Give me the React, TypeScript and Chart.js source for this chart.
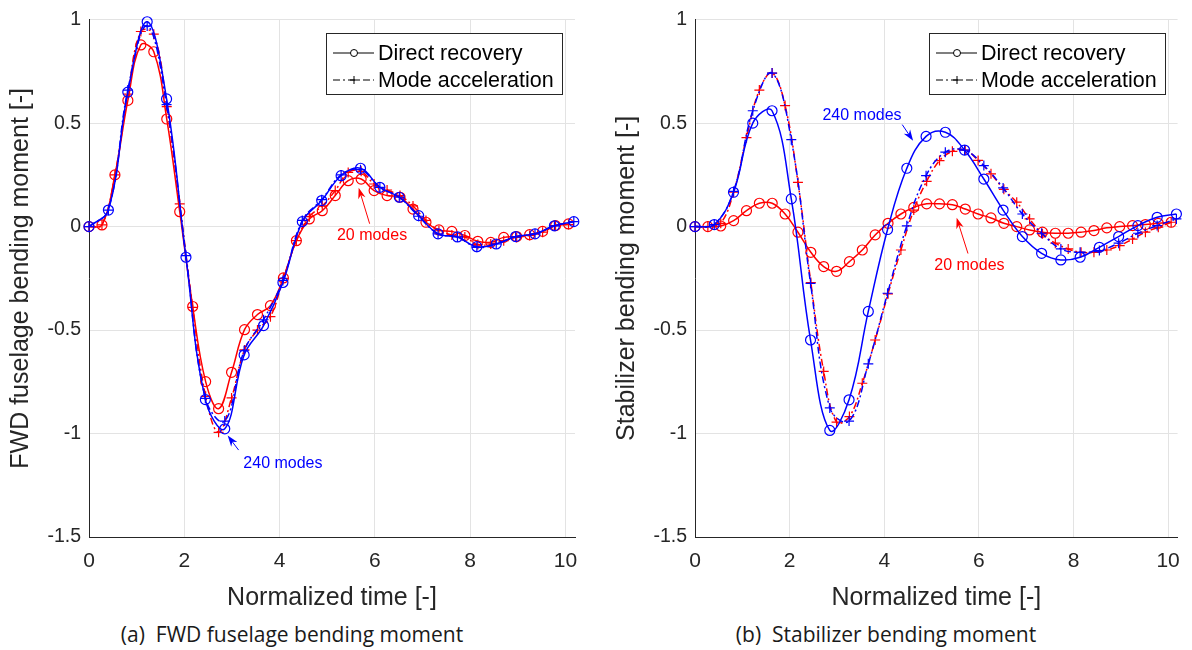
import React, { useEffect, useRef } from "react";
import { Chart, registerables } from "chart.js";

Chart.register(...registerables);
Chart.defaults.font.family = '"Liberation Sans", Arial, Helvetica, sans-serif';

// ---- sample times (marker positions) ----
const t240 = [0, 0.407, 0.814, 1.221, 1.628, 2.035, 2.442, 2.849, 3.256, 3.663, 4.07, 4.477, 4.884, 5.291, 5.698, 6.105, 6.512, 6.919, 7.326, 7.733, 8.14, 8.547, 8.954, 9.361, 9.768, 10.175];
const t20 = [0, 0.272, 0.544, 0.816, 1.088, 1.36, 1.632, 1.904, 2.176, 2.448, 2.72, 2.992, 3.264, 3.536, 3.808, 4.08, 4.352, 4.624, 4.896, 5.168, 5.44, 5.712, 5.984, 6.256, 6.528, 6.8, 7.072, 7.344, 7.616, 7.888, 8.16, 8.432, 8.704, 8.976, 9.248, 9.52, 9.792, 10.064];

// ---- (a) FWD fuselage bending moment ----
const fwdDirect240 = [0, 0.08, 0.65, 0.99, 0.617, -0.148, -0.836, -0.977, -0.62, -0.478, -0.27, 0.024, 0.126, 0.246, 0.282, 0.19, 0.142, 0.053, -0.035, -0.05, -0.097, -0.084, -0.048, -0.035, 0.004, 0.024];
const fwdModeAcc240 = [0, 0.08, 0.66, 0.97, 0.59, -0.14, -0.83, -0.94, -0.6, -0.45, -0.26, 0.03, 0.13, 0.25, 0.275, 0.19, 0.142, 0.05, -0.035, -0.05, -0.1, -0.084, -0.05, -0.035, 0.004, 0.024];
const fwdDirect20 = [0, 0.008, 0.25, 0.61, 0.878, 0.845, 0.52, 0.072, -0.386, -0.749, -0.88, -0.704, -0.498, -0.425, -0.382, -0.248, -0.068, 0.037, 0.077, 0.15, 0.222, 0.23, 0.174, 0.15, 0.142, 0.085, 0.021, -0.016, -0.023, -0.043, -0.071, -0.076, -0.052, -0.048, -0.039, -0.023, 0.005, 0.013];
const fwdModeAcc20 = [0, 0.008, 0.25, 0.64, 0.943, 0.93, 0.58, 0.11, -0.39, -0.82, -0.994, -0.828, -0.596, -0.5, -0.435, -0.25, -0.068, 0.048, 0.1, 0.174, 0.262, 0.267, 0.206, 0.177, 0.15, 0.1, 0.03, -0.02, -0.04, -0.05, -0.087, -0.084, -0.068, -0.052, -0.043, -0.027, 0.005, 0.01];

// ---- (b) Stabilizer bending moment ----
const stabDirect240 = [0, 0.01, 0.166, 0.5, 0.56, 0.134, -0.548, -0.985, -0.837, -0.41, -0.014, 0.282, 0.436, 0.456, 0.37, 0.23, 0.08, -0.048, -0.129, -0.161, -0.148, -0.1, -0.048, 0.005, 0.045, 0.061];
const stabModeAcc240 = [0, 0.01, 0.17, 0.56, 0.742, 0.42, -0.274, -0.876, -0.94, -0.663, -0.322, 0.004, 0.246, 0.36, 0.37, 0.295, 0.187, 0.061, -0.032, -0.108, -0.124, -0.116, -0.08, -0.032, 0.005, 0.037];
const stabDirect20 = [0, 0, 0.003, 0.029, 0.077, 0.113, 0.113, 0.061, -0.027, -0.124, -0.193, -0.216, -0.169, -0.113, -0.04, 0.016, 0.061, 0.093, 0.11, 0.11, 0.106, 0.085, 0.061, 0.042, 0.016, 0, -0.016, -0.027, -0.032, -0.032, -0.027, -0.019, -0.006, 0, 0.005, 0.01, 0.016, 0.021];
const stabModeAcc20 = [0, 0, 0.016, 0.166, 0.43, 0.66, 0.742, 0.585, 0.214, -0.27, -0.7, -0.945, -0.918, -0.757, -0.548, -0.325, -0.113, 0.08, 0.219, 0.319, 0.364, 0.37, 0.32, 0.255, 0.18, 0.118, 0.037, -0.035, -0.08, -0.108, -0.124, -0.124, -0.113, -0.092, -0.06, -0.027, -0.003, 0.021];

// ---- axes / labels ----
const xTickValues = [0, 2, 4, 6, 8, 10];
const xTickLabels = ["0", "2", "4", "6", "8", "10"];
const yTickValues = [-1.5, -1, -0.5, 0, 0.5, 1];
const yTickLabels = ["-1.5", "-1", "-0.5", "0", "0.5", "1"];
const legendLabels = ["Direct recovery", "Mode acceleration"];
const xTitle = "Normalized time [-]";

const BLUE = "#0000ff";
const RED = "#ff0000";
const AXIS = "#262626";
const GRID = "#e3e3e3";
const DASHDOT = [7, 3, 2, 3];
const FONT = '"Liberation Sans", Arial, Helvetica, sans-serif';

function pts(ts: number[], vs: number[]) {
  return ts.map((t, i) => ({ x: t, y: vs[i] }));
}

function series(ts: number[], vs: number[], color: string, style: string, dashed: boolean) {
  return {
    data: pts(ts, vs),
    borderColor: color,
    backgroundColor: "rgba(0,0,0,0)",
    borderWidth: 1.5,
    borderDash: dashed ? DASHDOT : [],
    tension: 0.4,
    fill: false,
    pointStyle: style,
    pointRadius: 5,
    pointHoverRadius: 5,
    pointBorderWidth: 1.2,
    pointBorderColor: color,
    pointBackgroundColor: "rgba(0,0,0,0)",
    clip: 10,
  };
}

const overlayPlugin = {
  id: "overlay",
  afterDatasetsDraw(chart: any, _args: any, opts: any) {
    const { ctx, chartArea } = chart;
    const xs = chart.scales.x;
    const ys = chart.scales.y;
    ctx.save();
    // annotations
    for (const a of opts.notes || []) {
      const tx = xs.getPixelForValue(a.tip[0]);
      const ty = ys.getPixelForValue(a.tip[1]);
      const sx = xs.getPixelForValue(a.tail[0]);
      const sy = ys.getPixelForValue(a.tail[1]);
      ctx.strokeStyle = a.color;
      ctx.fillStyle = a.color;
      ctx.lineWidth = 1;
      ctx.setLineDash([]);
      const ang = Math.atan2(ty - sy, tx - sx);
      const c = Math.cos(ang), s = Math.sin(ang);
      const L = 11, W = 3.8;
      ctx.beginPath();
      ctx.moveTo(sx, sy);
      ctx.lineTo(tx - 6 * c, ty - 6 * s);
      ctx.stroke();
      ctx.beginPath();
      ctx.moveTo(tx, ty);
      ctx.lineTo(tx - L * c + W * s, ty - L * s - W * c);
      ctx.lineTo(tx - 0.7 * L * c, ty - 0.7 * L * s);
      ctx.lineTo(tx - L * c - W * s, ty - L * s + W * c);
      ctx.closePath();
      ctx.fill();
      ctx.font = "16px " + FONT;
      ctx.textAlign = "center";
      ctx.textBaseline = "middle";
      ctx.fillText(a.text, xs.getPixelForValue(a.at[0]), ys.getPixelForValue(a.at[1]));
    }
    // legend
    const bw = 236, bh = 61;
    const bx = Math.round(chartArea.right - 13 - bw);
    const by = Math.round(chartArea.top + 13);
    ctx.fillStyle = "#ffffff";
    ctx.fillRect(bx, by, bw, bh);
    ctx.strokeStyle = AXIS;
    ctx.lineWidth = 1;
    ctx.strokeRect(bx + 0.5, by + 0.5, bw, bh);
    const rows = [by + 20, by + 47];
    rows.forEach((ry, i) => {
      ctx.strokeStyle = "#000";
      ctx.lineWidth = 1.2;
      ctx.setLineDash(i === 1 ? DASHDOT : []);
      ctx.beginPath();
      ctx.moveTo(bx + 7, ry);
      ctx.lineTo(bx + 48, ry);
      ctx.stroke();
      ctx.setLineDash([]);
      const mx = bx + 28;
      ctx.lineWidth = 1;
      if (i === 0) {
        ctx.fillStyle = "#fff";
        ctx.beginPath();
        ctx.arc(mx, ry, 3.5, 0, Math.PI * 2);
        ctx.fill();
        ctx.stroke();
      } else {
        ctx.beginPath();
        ctx.moveTo(mx - 4, ry);
        ctx.lineTo(mx + 4, ry);
        ctx.moveTo(mx, ry - 4);
        ctx.lineTo(mx, ry + 4);
        ctx.stroke();
      }
      ctx.fillStyle = "#000";
      ctx.font = "21.5px " + FONT;
      ctx.textAlign = "left";
      ctx.textBaseline = "middle";
      ctx.fillText(legendLabels[i], bx + 52, ry + 1);
    });
    ctx.restore();
  },
};

type PanelProps = {
  left: number;
  d240: number[];
  m240: number[];
  d20: number[];
  m20: number[];
  yTitle: string;
  yWidth: number;
  yTitlePad: number;
  padRight: number;
  notes: any[];
};

function Panel(p: PanelProps) {
  const ref = useRef<HTMLCanvasElement>(null);
  useEffect(() => {
    if (!ref.current) return;
    const chart = new Chart(ref.current, {
      type: "line",
      data: {
        datasets: [
          series(t240, p.d240, BLUE, "circle", false),
          series(t240, p.m240, BLUE, "cross", true),
          series(t20, p.d20, RED, "circle", false),
          series(t20, p.m20, RED, "cross", true),
        ] as any,
      },
      options: {
        responsive: false,
        animation: false,
        events: [],
        layout: { padding: { left: 0, top: 19, right: p.padRight, bottom: 0 } },
        plugins: {
          legend: { display: false },
          tooltip: { enabled: false },
          overlay: { notes: p.notes },
        } as any,
        scales: {
          x: {
            type: "linear",
            min: 0,
            max: 10.2,
            afterBuildTicks: (ax: any) => {
              ax.ticks = xTickValues.map((v) => ({ value: v }));
            },
            afterFit: (ax: any) => {
              ax.height = 78;
            },
            grid: { color: GRID, drawTicks: false, lineWidth: 1 },
            border: { display: true, color: AXIS, width: 1 },
            ticks: {
              padding: 12,
              color: AXIS,
              font: { size: 21 },
              maxRotation: 0,
              autoSkip: false,
              callback: (_v: any, i: number) => xTickLabels[i],
            },
            title: {
              display: true,
              text: xTitle,
              color: AXIS,
              font: { size: 25 },
              padding: { top: 0, bottom: 2 },
            },
          },
          y: {
            type: "linear",
            min: -1.5,
            max: 1,
            afterBuildTicks: (ax: any) => {
              ax.ticks = yTickValues.map((v) => ({ value: v }));
            },
            afterFit: (ax: any) => {
              ax.width = p.yWidth;
            },
            grid: { color: GRID, drawTicks: false, lineWidth: 1 },
            border: { display: true, color: AXIS, width: 1 },
            ticks: {
              padding: 8,
              color: AXIS,
              font: { size: 19.5 },
              autoSkip: false,
              callback: (_v: any, i: number) => yTickLabels[i],
            },
            title: {
              display: true,
              text: p.yTitle,
              color: AXIS,
              font: { size: 25 },
              padding: { top: p.yTitlePad, bottom: 0 },
            },
          },
        },
      } as any,
      plugins: [overlayPlugin],
    });
    return () => chart.destroy();
  }, []);
  return (
    <canvas
      ref={ref}
      width={596}
      height={615}
      style={{ position: "absolute", left: p.left, top: 0, width: 596, height: 615 }}
    />
  );
}

const captionStyle: React.CSSProperties = {
  position: "absolute",
  top: 621,
  transform: "translateX(-50%)",
  whiteSpace: "pre",
  fontFamily: '"Open Sans", "Noto Sans", sans-serif',
  fontSize: 21,
  lineHeight: "26px",
  color: "#1a1a1a",
};

export default function App() {
  return (
    <div
      style={{
        position: "absolute",
        left: 0,
        top: 0,
        width: 1192,
        height: 650,
        background: "#ffffff",
        overflow: "hidden",
      }}
    >
      <Panel
        left={0}
        d240={fwdDirect240}
        m240={fwdModeAcc240}
        d20={fwdDirect20}
        m20={fwdModeAcc20}
        yTitle="FWD fuselage bending moment [-]"
        yWidth={89}
        yTitlePad={6}
        padRight={21}
        notes={[
          { text: "240 modes", color: BLUE, tip: [2.91, -1.01], tail: [3.14, -1.08], at: [4.07, -1.145] },
          { text: "20 modes", color: RED, tip: [5.66, 0.188], tail: [5.89, 0.014], at: [5.94, -0.043] },
        ]}
      />
      <Panel
        left={596}
        d240={stabDirect240}
        m240={stabModeAcc240}
        d20={stabDirect20}
        m20={stabModeAcc20}
        yTitle="Stabilizer bending moment [-]"
        yWidth={99}
        yTitlePad={16}
        padRight={10}
        notes={[
          { text: "240 modes", color: BLUE, tip: [4.61, 0.415], tail: [4.38, 0.493], at: [3.53, 0.536] },
          { text: "20 modes", color: RED, tip: [5.53, 0.043], tail: [5.77, -0.13], at: [5.8, -0.188] },
        ]}
      />
      <div style={{ ...captionStyle, left: 292 }}>{"(a)  FWD fuselage bending moment"}</div>
      <div style={{ ...captionStyle, left: 886 }}>{"(b)  Stabilizer bending moment"}</div>
    </div>
  );
}
